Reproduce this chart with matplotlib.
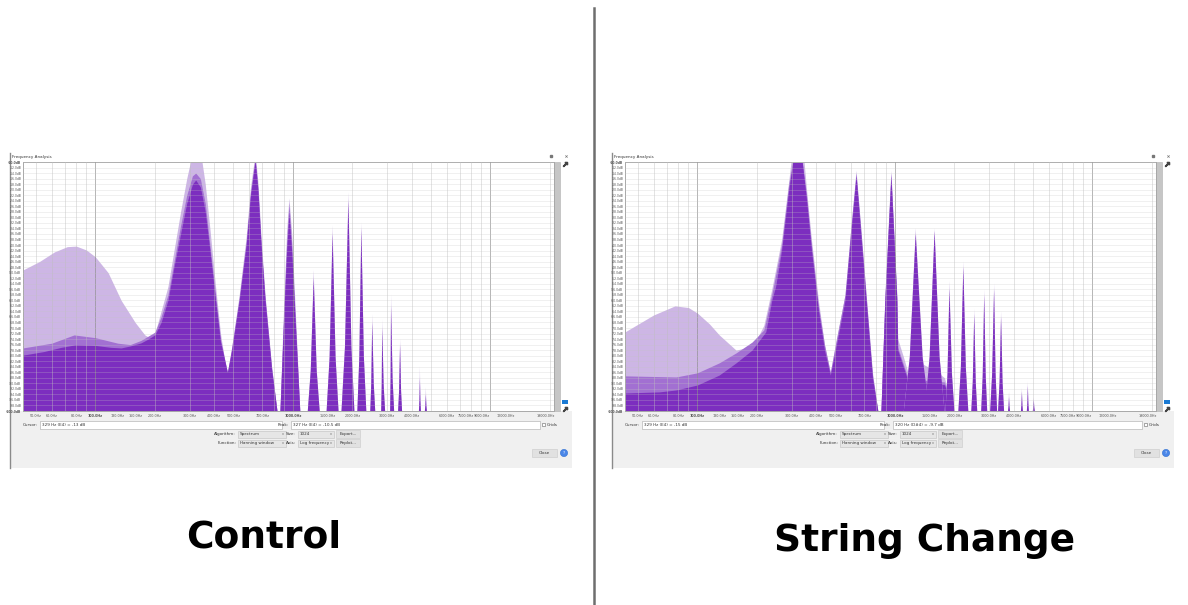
import numpy as np
import matplotlib.pyplot as plt
from matplotlib.patches import Rectangle, Circle

W, H = 1188, 605

# axis ranges of the two spectrum plots
f_min, f_max = 43.0, 21000.0
db_min, db_max = -100.0, -10.0

# ---------------- Control ----------------
ctrl_light_f = [43, 52, 62, 72, 80, 90, 100, 116, 135, 159, 178, 189, 200, 215, 233, 250, 270, 290, 305, 322,
                345, 360, 380, 406, 430, 466, 490, 535, 580, 610, 644, 665, 690, 723, 780, 831, 860, 900, 930, 955,
                985, 1023, 1084]
ctrl_light_db = [-49, -46, -42.5, -40.6, -40.4, -41.8, -44.3, -50, -60, -68, -72.5, -73.6, -72, -64, -55, -42, -28, -16, -9, -6,
                 -9, -18, -34, -55, -72, -88, -77, -58, -37, -19, -7, -17, -37, -58, -84, -100, -100, -60, -35, -23,
                 -35, -60, -100]

ctrl_mid_f = [43, 60, 78, 100, 130, 150, 170, 200, 215, 233, 250, 270, 290, 310, 322, 340, 360, 380, 406, 430,
              466, 490, 535, 580, 610, 644, 665, 690, 723, 780, 831, 860, 900, 930, 955, 985, 1023, 1084]
ctrl_mid_db = [-77.2, -75.5, -72.5, -73.5, -75.5, -76, -74.5, -71.5, -66, -58, -46, -33, -22, -15, -14, -16, -25, -40, -58, -74,
               -86, -77, -59, -39, -21, -8.5, -19, -39, -59, -84, -100, -100, -63, -39, -25, -39, -63, -100]

ctrl_dark_f = [43, 55, 67, 79, 100, 120, 135, 150, 170, 185, 200, 215, 233, 250, 270, 290, 310, 322, 340, 360,
               380, 406, 430, 466, 490, 535, 580, 610, 644, 665, 690, 723, 780, 831, 860, 900, 930, 955, 985, 1023,
               1084]
ctrl_dark_db = [-79.8, -78.5, -77, -76.1, -76.3, -77, -77.2, -76.5, -75.4, -74, -72.5, -68, -60, -48, -36, -25, -18, -16.5, -19, -28,
                -42, -60, -75, -86, -78, -60, -40, -22, -9.5, -20, -40, -60, -85, -100, -100, -65, -42, -28.4, -42, -65,
                -100]

# upper harmonics (narrow spikes): centre, feet, peak level
ctrl_harm_f = [1275, 1589, 1911, 2222, 2523, 2834, 3141, 3490, 4398, 4714]
ctrl_harm_lo = [1190, 1482, 1763, 2121, 2466, 2800, 3108, 3411, 4348, 4660]
ctrl_harm_hi = [1367, 1703, 2049, 2354, 2612, 2931, 3256, 3572, 4449, 4770]
ctrl_harm_dark = [-52, -36, -24, -34, -68, -70, -62, -76, -88, -94]
ctrl_harm_light = [-49, -33, -21, -32, -65, -67, -58, -74, -84, -91.5]

# ---------------- String Change ----------------
sc_light_f = [43, 60, 77, 90, 100, 115, 129, 157, 182, 200, 217, 238, 267, 290, 300, 345, 357, 378, 410, 440,
              471, 500, 559, 600, 636, 670, 715, 770, 820, 850, 890, 955, 1023, 1034, 1100, 1164, 1300, 1468, 1650, 1783,
              1982]
sc_light_db = [-71.4, -65.3, -62, -62.6, -64.6, -68.5, -72.5, -78, -76.9, -74, -69, -56, -38, -17, -8, -8, -20, -38, -60, -76,
               -86, -76, -58, -33, -13, -33, -58, -86, -100, -100, -58, -13, -58, -74, -80, -86, -82, -84, -86, -88,
               -100]

sc_mid_f = [43, 78, 100, 129, 157, 189, 217, 238, 267, 290, 307, 337, 357, 378, 410, 440, 471, 500, 559, 600,
            636, 670, 715, 770, 820, 850, 890, 955, 1023, 1034, 1164, 1468, 1783, 1982]
sc_mid_db = [-87.3, -87.7, -86.2, -82.6, -79, -75.1, -70.7, -58, -40, -18, -8, -8, -22, -40, -62, -76, -86, -76, -58, -33,
             -14, -33, -58, -87, -100, -100, -59, -14, -59, -77, -88, -89, -89.5, -100]

sc_dark_f = [43, 64, 78, 100, 129, 157, 189, 222, 238, 249, 267, 290, 307, 337, 357, 378, 410, 440, 471, 500,
             559, 600, 636, 670, 715, 770, 820, 850, 890, 955, 1023, 1034, 1164, 1468, 1783, 1982]
sc_dark_db = [-93.5, -93.1, -92.4, -90.6, -87, -82.6, -78, -71.4, -60, -55, -41.8, -20.1, -8, -8, -23.7, -41.8, -63.5, -78, -87, -78,
              -60, -35, -15, -35, -60, -88, -100, -100, -60, -15, -60, -78, -89, -90, -90.5, -100]

sc_harm_f = [1275, 1589, 1890, 2222, 2523, 2834, 3180, 3449, 3784, 4398, 4714, 5051]
sc_harm_lo = [1110, 1415, 1805, 2097, 2438, 2736, 3038, 3331, 3741, 4348, 4659, 4994]
sc_harm_hi = [1499, 1784, 2002, 2354, 2612, 2934, 3293, 3572, 3828, 4449, 4769, 5111]
sc_harm_dark = [-36, -35, -56, -48, -65, -58, -56, -66, -95, -93, -91, -96]
sc_harm_light = [-34, -34, -53, -46, -63, -56, -54, -64, -93, -91.7, -89.5, -95]

# x tick labels of the frequency axis
tick_f = [50, 60, 80, 100, 130, 160, 200, 300, 400, 500, 700, 1000, 1500, 2000, 3000, 4000, 6000, 7500, 9000,
          12000, 19000]

col_light = '#cdb6e5'
col_mid = '#a270d2'
col_dark = '#7c2ebf'


def spikes(ax, fc, lo, hi, top, color):
    for c, a, b, t in zip(fc, lo, hi, top):
        lc, la, lb = np.log10(c), np.log10(a), np.log10(b)
        xs = 10 ** np.array([la, la + 0.5 * (lc - la), lc, lc + 0.5 * (lb - lc), lb])
        sh = db_min + 0.3 * (t - db_min)
        ys = [db_min, sh, t, sh, db_min]
        ax.fill(xs, ys, color=color, lw=0, zorder=1)


def spectrum(ax, light, mid, dark, harm):
    for (f, d), col in zip([light, mid, dark], [col_light, col_mid, col_dark]):
        ax.fill_between(f, d, db_min, color=col, lw=0, zorder=1)
    hf, hlo, hhi, hdark, hlight = harm
    spikes(ax, hf, hlo, hhi, hlight, col_light)
    spikes(ax, hf, hlo, hhi, hdark, col_dark)

    ax.set_xscale('log')
    ax.set_xlim(f_min, f_max)
    ax.set_ylim(db_min, db_max)
    ax.xaxis.set_minor_locator(plt.NullLocator())
    for dec in [10, 100, 1000, 10000]:
        for k in range(1, 10):
            g = dec * k
            if f_min < g < f_max:
                strong = k == 1
                ax.axvline(g, color='#8c8c8c' if strong else '#bdbdbd', lw=0.6,
                           alpha=0.75 if strong else 0.5, zorder=3)
    yt = np.arange(db_min, db_max + 0.1, 2)
    for y in yt:
        ax.axhline(y, color='#c4c4c4', lw=0.45, alpha=0.4, zorder=3)
    ax.set_xticks(tick_f)
    xl = ax.set_xticklabels([f'{v:.1f}Hz' for v in tick_f])
    for t, v in zip(xl, tick_f):
        if v in (100, 1000):
            t.set_fontweight('bold')
    ax.set_yticks(yt)
    yl = ax.set_yticklabels([f'{v:.1f}dB' for v in yt])
    yl[-1].set_fontweight('bold')
    yl[0].set_fontweight('bold')
    ax.tick_params(which='both', length=0, colors='#555555')
    ax.tick_params(axis='x', labelsize=2.4, pad=2.5)
    ax.tick_params(axis='y', labelsize=2.2, pad=1.2)
    for s in ax.spines.values():
        s.set_color('#a8a8a8')
        s.set_linewidth(0.7)


def box(bg, x, y, w, h, fc, ec='#a8a8a8'):
    bg.add_patch(Rectangle((x, y), w, h, fc=fc, ec=ec, lw=0.4, zorder=2))


def window(bg, x0, cursor_txt, peak_txt):
    ui = dict(fontsize=3, color='#333333', va='center', zorder=3)
    bg.add_patch(Rectangle((x0, 411), 562, 57, fc='#f0f0f0', ec='none', zorder=1))
    bg.plot([x0, x0], [153, 468], color='#8a8a8a', lw=1.0, zorder=2)
    bg.text(x0 + 2, 157, 'Frequency Analysis', **ui)
    bg.plot(x0 + 541, 156, marker='s', ms=1.6, color='#777777', zorder=3)
    bg.plot(x0 + 556, 156, marker='x', ms=1.6, mew=0.5, color='#777777', zorder=3)
    # scrollbar + zoom icons
    bg.add_patch(Rectangle((x0 + 544, 162), 6, 249, fc='#c6c6c6', ec='#b0b0b0', lw=0.4, zorder=2))
    bg.plot(x0 + 555, 164, marker='$\\nearrow$', ms=3, color='#444444', zorder=3)
    bg.add_patch(Rectangle((x0 + 552, 400), 6, 4, fc='#1a7ad4', ec='none', zorder=3))
    bg.plot(x0 + 555, 409, marker='$\\nearrow$', ms=3, color='#444444', zorder=3)
    # cursor / peak row
    bg.text(x0 + 28, 425, 'Cursor:', ha='right', **ui)
    box(bg, x0 + 30, 421, 242, 8, 'white')
    bg.text(x0 + 32, 425, cursor_txt, **ui)
    bg.text(x0 + 279, 425, 'Peak:', ha='right', **ui)
    box(bg, x0 + 281, 421, 249, 8, 'white')
    bg.text(x0 + 283, 425, peak_txt, **ui)
    box(bg, x0 + 532, 423, 3, 3, 'white', '#666666')
    bg.text(x0 + 537, 425, 'Grids', **ui)
    # algorithm / function rows
    rows = [(434, 'Algorithm:', 'Spectrum', 'Size:', '1024', 'Export...'),
            (443, 'Function:', 'Hanning window', 'Axis:', 'Log frequency', 'Replot...')]
    for y, l1, v1, l2, v2, b in rows:
        bg.text(x0 + 226, y, l1, ha='right', **ui)
        box(bg, x0 + 228, y - 3.5, 48, 7, '#e6e6e6', '#c0c0c0')
        bg.text(x0 + 230, y, v1, **ui)
        bg.text(x0 + 272, y, 'v', fontsize=2.4, color='#666666', va='center', zorder=3)
        bg.text(x0 + 286, y, l2, ha='right', **ui)
        box(bg, x0 + 288, y - 3.5, 36, 7, '#e6e6e6', '#c0c0c0')
        bg.text(x0 + 290, y, v2, **ui)
        bg.text(x0 + 320, y, 'v', fontsize=2.4, color='#666666', va='center', zorder=3)
        box(bg, x0 + 326, y - 4, 24, 8, '#e1e1e1', '#c8c8c8')
        bg.text(x0 + 338, y, b, ha='center', **ui)
    box(bg, x0 + 522, 449, 25, 8, '#e1e1e1', '#c8c8c8')
    bg.text(x0 + 534.5, 453, 'Close', ha='center', **ui)
    bg.add_patch(Circle((x0 + 554, 453), 3.6, fc='#4a86e8', ec='#2f6fd0', lw=0.4, zorder=3))
    bg.text(x0 + 554, 453, '?', fontsize=3, color='white', ha='center', va='center', zorder=4)


fig = plt.figure(figsize=(W / 100, H / 100), dpi=100)
fig.patch.set_facecolor('white')

bg = fig.add_axes([0, 0, 1, 1])
bg.set_xlim(0, W)
bg.set_ylim(H, 0)
bg.axis('off')

window(bg, 10, '329 Hz (E4) = -13 dB', '327 Hz (E4) = -10.5 dB')
window(bg, 612, '329 Hz (E4) = -15 dB', '320 Hz (D#4) = -9.7 dB')

# divider between the two screenshots
bg.plot([594, 594], [8, 605], color='#6e6e6e', lw=1.8)

bg.text(264, 538, 'Control', fontsize=27, fontweight='bold', ha='center', va='center', color='black')
bg.text(925, 541, 'String Change', fontsize=27, fontweight='bold', ha='center', va='center', color='black')


def plot_axes(x0, x1, y0=162, y1=411):
    return fig.add_axes([x0 / W, 1 - y1 / H, (x1 - x0) / W, (y1 - y0) / H])


ax1 = plot_axes(23, 554)
spectrum(ax1, (ctrl_light_f, ctrl_light_db), (ctrl_mid_f, ctrl_mid_db), (ctrl_dark_f, ctrl_dark_db),
         (ctrl_harm_f, ctrl_harm_lo, ctrl_harm_hi, ctrl_harm_dark, ctrl_harm_light))

ax2 = plot_axes(625, 1156)
spectrum(ax2, (sc_light_f, sc_light_db), (sc_mid_f, sc_mid_db), (sc_dark_f, sc_dark_db),
         (sc_harm_f, sc_harm_lo, sc_harm_hi, sc_harm_dark, sc_harm_light))

fig.savefig('out.png', dpi=100)
